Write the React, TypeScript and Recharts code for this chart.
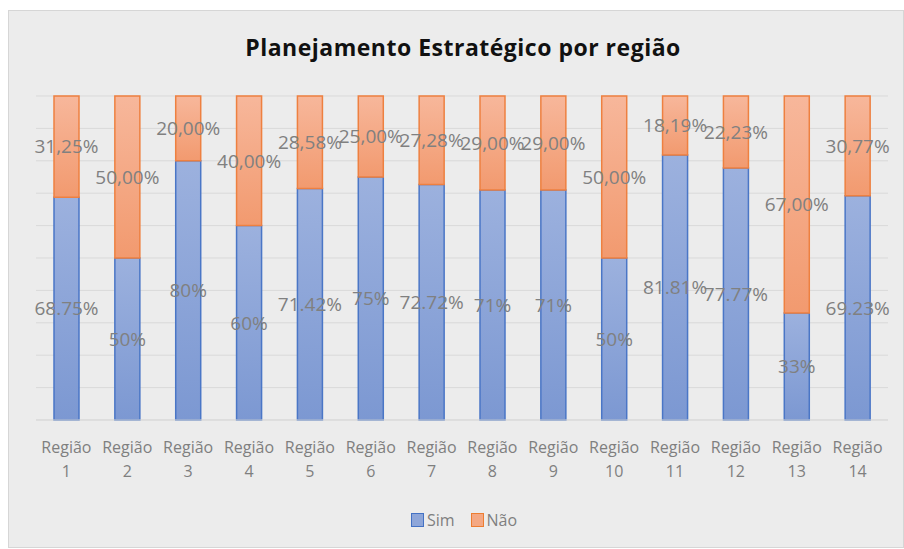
import { BarChart, Bar, XAxis, YAxis, CartesianGrid, LabelList, Legend } from "recharts";

const regions = [
  "Região 1", "Região 2", "Região 3", "Região 4", "Região 5", "Região 6", "Região 7",
  "Região 8", "Região 9", "Região 10", "Região 11", "Região 12", "Região 13", "Região 14",
];
const sim = [68.75, 50, 80, 60, 71.42, 75, 72.72, 71, 71, 50, 81.81, 77.77, 33, 69.23];
const nao = [31.25, 50, 20, 40, 28.58, 25, 27.28, 29, 29, 50, 18.19, 22.23, 67, 30.77];
const simLabels = ["68.75%", "50%", "80%", "60%", "71.42%", "75%", "72.72%", "71%", "71%", "50%", "81.81%", "77.77%", "33%", "69.23%"];
const naoLabels = ["31,25%", "50,00%", "20,00%", "40,00%", "28,58%", "25,00%", "27,28%", "29,00%", "29,00%", "50,00%", "18,19%", "22,23%", "67,00%", "30,77%"];

const data = regions.map((name, i) => ({
  name,
  sim: sim[i],
  nao: nao[i],
  simLabel: simLabels[i],
  naoLabel: naoLabels[i],
}));

const FONT = "'Open Sans', sans-serif";

function RegionTick({ x, y, payload }: { x?: number; y?: number; payload?: { value: string } }) {
  const [word, num] = (payload?.value ?? "").split(" ");
  return (
    <text x={x} y={y} textAnchor="middle" fill="#7f7f7f" fontSize={16} fontFamily={FONT}>
      <tspan x={x} dy={25}>{word}</tspan>
      <tspan x={x} dy={24}>{num}</tspan>
    </text>
  );
}

function ChartLegend() {
  const items = [
    { label: "Sim", fill: "#8ea6d9", stroke: "#4472c4" },
    { label: "Não", fill: "#f4a883", stroke: "#ed7d31" },
  ];
  return (
    <div
      style={{
        display: "flex",
        justifyContent: "center",
        gap: 16,
        paddingTop: 29,
        paddingLeft: 4,
        fontFamily: FONT,
        fontSize: 16,
        color: "#7f7f7f",
      }}
    >
      {items.map((it) => (
        <span key={it.label} style={{ display: "flex", alignItems: "center", gap: 3 }}>
          <span style={{ width: 11, height: 12, background: it.fill, border: `1px solid ${it.stroke}` }} />
          {it.label}
        </span>
      ))}
    </div>
  );
}

export default function App() {
  return (
    <div style={{ position: "absolute", left: 0, top: 0, width: 904, height: 549, background: "#fff" }}>
      <div
        style={{
          position: "absolute",
          left: 8,
          top: 10,
          width: 894,
          height: 536,
          background: "#ececec",
          border: "1px solid #d6d6d6",
        }}
      />
      <div
        style={{
          position: "absolute",
          left: 0,
          top: 31,
          width: 926,
          textAlign: "center",
          fontFamily: FONT,
          fontWeight: 700,
          fontSize: 23,
          letterSpacing: 0.5,
          color: "#111",
        }}
      >
        Planejamento Estratégico por região
      </div>
      <div style={{ position: "absolute", left: 0, top: 0 }}>
        <BarChart
          width={904}
          height={549}
          data={data}
          margin={{ top: 96, right: 16, bottom: 11, left: 36 }}
          barSize={25}
        >
          <defs>
            <linearGradient id="gSim" x1="0" y1="0" x2="0" y2="1">
              <stop offset="0%" stopColor="#9cb1de" />
              <stop offset="100%" stopColor="#7c98d2" />
            </linearGradient>
            <linearGradient id="gNao" x1="0" y1="0" x2="0" y2="1">
              <stop offset="0%" stopColor="#f7b79b" />
              <stop offset="100%" stopColor="#f29a6f" />
            </linearGradient>
          </defs>
          <CartesianGrid vertical={false} stroke="#d9d9d9" />
          <XAxis
            dataKey="name"
            axisLine={{ stroke: "#d9d9d9" }}
            tickLine={false}
            interval={0}
            height={60}
            tick={<RegionTick />}
          />
          <YAxis hide domain={[0, 100]} ticks={[0, 10, 20, 30, 40, 50, 60, 70, 80, 90, 100]} />
          <Legend verticalAlign="bottom" height={58} content={<ChartLegend />} />
          <Bar dataKey="sim" name="Sim" stackId="a" fill="url(#gSim)" stroke="#4a76c6" strokeWidth={1.5} isAnimationActive={false}>
            <LabelList dataKey="simLabel" position="center" fill="#808080" fontSize={19} fontFamily={FONT} />
          </Bar>
          <Bar dataKey="nao" name="Não" stackId="a" fill="url(#gNao)" stroke="#ee8040" strokeWidth={1.5} isAnimationActive={false}>
            <LabelList dataKey="naoLabel" position="center" fill="#808080" fontSize={19} fontFamily={FONT} />
          </Bar>
        </BarChart>
      </div>
    </div>
  );
}
